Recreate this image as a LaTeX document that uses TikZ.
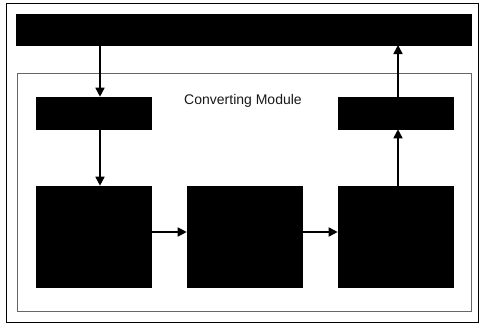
\documentclass[tikz,border=0pt]{standalone}
\usepackage{fontspec}
\setmainfont{Liberation Sans}
\usetikzlibrary{arrows.meta}
\begin{document}
\begin{tikzpicture}[x=1pt,y=-1pt,
  block/.style={draw=black,fill=black,line width=0.6pt},
  flow/.style={line width=1.6pt,-{Triangle[length=9pt,width=9pt]}}]
\useasboundingbox (0,0) rectangle (483,327);
\fill[white] (0,0) rectangle (483,327);
% outer frame
\draw[line width=0.8pt] (6,3) rectangle (478,322);
% converting module frame
\draw[line width=0.6pt,black!60] (17,73) rectangle (471,311);
\node[font=\fontsize{14}{16}\selectfont,text=black!90] (title) at (243,101) {Converting Module};
% blocks
\path[block] (16,14) rectangle (471,45);
\coordinate (topS1) at (100,45);
\coordinate (topS2) at (398,45);
\node[block,minimum width=115pt,minimum height=32pt,inner sep=0pt] (in) at (93.5,113) {};
\node[block,minimum width=115pt,minimum height=32pt,inner sep=0pt] (out) at (396,113) {};
\node[block,minimum width=115pt,minimum height=101pt,inner sep=0pt] (b1) at (93.5,236.5) {};
\node[block,minimum width=115pt,minimum height=101pt,inner sep=0pt] (b2) at (244.5,236.5) {};
\node[block,minimum width=115pt,minimum height=101pt,inner sep=0pt] (b3) at (395.5,236.5) {};
% connectors
\draw[flow] (topS1) -- (topS1 |- in.north);
\draw[flow] (in.south -| topS1) -- (topS1 |- b1.north);
\draw[flow] (b1.east |- 0,232) -- (b2.west |- 0,232);
\draw[flow] (b2.east |- 0,232) -- (b3.west |- 0,232);
\draw[flow] (b3.north -| topS2) -- (topS2 |- out.south);
\draw[flow] (out.north -| topS2) -- (topS2);
\end{tikzpicture}
\end{document}
